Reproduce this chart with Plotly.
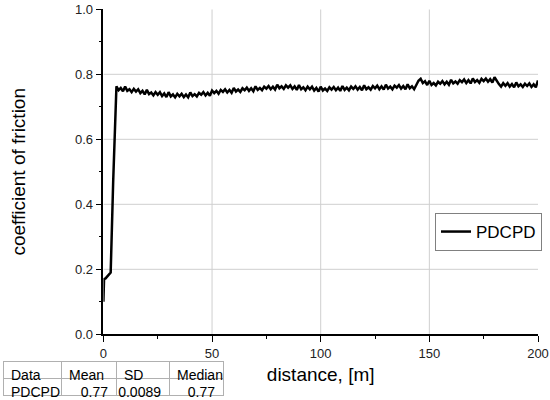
import plotly.graph_objects as go

# start-up part of the run
distance_start = [0.0, 0.3, 1.0, 2.0, 3.0, 3.35, 4.5, 5.8]
friction_start = [0.100, 0.170, 0.172, 0.180, 0.186, 0.190, 0.470, 0.760]

# steady part, one reading per metre (noisy band)
distance_steady = list(range(6, 201))
friction_steady = [
    0.763, 0.751, 0.758, 0.748, 0.762, 0.749, 0.754, 0.745, 0.755, 0.747,
    0.754, 0.742, 0.749, 0.738, 0.752, 0.739, 0.744, 0.735, 0.745, 0.737,
    0.745, 0.733, 0.741, 0.730, 0.745, 0.732, 0.738, 0.729, 0.740, 0.732,
    0.740, 0.730, 0.738, 0.729, 0.744, 0.733, 0.739, 0.732, 0.743, 0.737,
    0.745, 0.735, 0.743, 0.734, 0.750, 0.742, 0.749, 0.740, 0.752, 0.746,
    0.754, 0.744, 0.752, 0.743, 0.758, 0.747, 0.753, 0.746, 0.757, 0.751,
    0.759, 0.749, 0.757, 0.748, 0.763, 0.752, 0.758, 0.751, 0.762, 0.756,
    0.764, 0.754, 0.762, 0.753, 0.768, 0.757, 0.763, 0.755, 0.766, 0.759,
    0.766, 0.755, 0.763, 0.752, 0.767, 0.754, 0.760, 0.751, 0.762, 0.754,
    0.762, 0.750, 0.758, 0.747, 0.762, 0.750, 0.756, 0.749, 0.760, 0.753,
    0.761, 0.751, 0.759, 0.749, 0.764, 0.752, 0.759, 0.751, 0.762, 0.755,
    0.763, 0.753, 0.761, 0.751, 0.766, 0.754, 0.760, 0.753, 0.764, 0.757,
    0.765, 0.754, 0.763, 0.753, 0.768, 0.756, 0.762, 0.754, 0.765, 0.759,
    0.767, 0.756, 0.764, 0.754, 0.769, 0.757, 0.763, 0.754, 0.765, 0.780,
    0.786, 0.773, 0.779, 0.767, 0.780, 0.767, 0.773, 0.766, 0.777, 0.771,
    0.779, 0.769, 0.777, 0.768, 0.783, 0.772, 0.778, 0.771, 0.782, 0.776,
    0.784, 0.773, 0.782, 0.772, 0.787, 0.776, 0.782, 0.774, 0.786, 0.779,
    0.787, 0.777, 0.785, 0.775, 0.791, 0.779, 0.770, 0.762, 0.773, 0.765,
    0.773, 0.762, 0.770, 0.760, 0.775, 0.763, 0.769, 0.761, 0.771, 0.764,
    0.772, 0.761, 0.769, 0.760, 0.781,
]

distance = distance_start + distance_steady
friction = friction_start + friction_steady

series_name = "PDCPD"

# stats table
table_header = ["Data", "Mean", "SD", "Median"]
table_row = ["PDCPD", "0.77", "0.0089", "0.77"]

x_grid = [50, 100, 150]
y_grid = [0.2, 0.4, 0.6, 0.8]

FONT = "Liberation Sans, Arial, sans-serif"

fig = go.Figure()

fig.add_trace(
    go.Scatter(
        x=distance,
        y=friction,
        mode="lines",
        name=series_name,
        line=dict(color="black", width=2.5),
        showlegend=True,
    )
)

fig.add_trace(
    go.Table(
        domain=dict(x=[3 / 550, 223 / 550], y=[0.0, 1 - 361 / 400]),
        columnwidth=[58, 55, 53, 54],
        header=dict(
            values=table_header,
            align="left",
            font=dict(family=FONT, size=14, color="black"),
            fill_color="white",
            line_color="#b0b0b0",
            height=17,
        ),
        cells=dict(
            values=[[v] for v in table_row],
            align=["left", "right", "right", "right"],
            font=dict(family=FONT, size=14, color="black"),
            fill_color="white",
            line_color="#b0b0b0",
            height=17,
        ),
    )
)

# grid lines only at inner ticks
for gx in x_grid:
    fig.add_shape(type="line", xref="x", yref="y", x0=gx, x1=gx, y0=0, y1=1,
                  line=dict(color="#cfcfcf", width=1), layer="below")
for gy in y_grid:
    fig.add_shape(type="line", xref="x", yref="y", x0=0, x1=200, y0=gy, y1=gy,
                  line=dict(color="#cfcfcf", width=1), layer="below")

fig.update_xaxes(
    domain=[103.4 / 550, 538 / 550],
    range=[0, 200],
    tickvals=[0, 50, 100, 150, 200],
    ticks="outside",
    ticklen=6,
    tickwidth=1.2,
    tickcolor="black",
    minor=dict(tickvals=[25, 75, 125, 175], ticks="outside", ticklen=3,
               tickcolor="black", showgrid=False),
    showgrid=False,
    zeroline=False,
    showline=True,
    linecolor="black",
    linewidth=1.5,
    automargin=False,
    tickfont=dict(family=FONT, size=13, color="#222"),
    title=dict(text="distance, [m]", font=dict(family=FONT, size=19, color="black"),
               standoff=8),
)

fig.update_yaxes(
    domain=[1 - 334.3 / 400, 1 - 9.3 / 400],
    range=[0, 1],
    tickvals=[0, 0.2, 0.4, 0.6, 0.8, 1.0],
    tickformat=".1f",
    ticks="outside",
    ticklen=6,
    tickwidth=1.2,
    tickcolor="black",
    minor=dict(tickvals=[0.1, 0.3, 0.5, 0.7, 0.9], ticks="outside", ticklen=3,
               tickcolor="black", showgrid=False),
    showgrid=False,
    zeroline=False,
    showline=True,
    linecolor="black",
    linewidth=1.5,
    automargin=False,
    tickfont=dict(family=FONT, size=13, color="#222"),
    title=dict(text="coefficient of friction",
               font=dict(family=FONT, size=19, color="black"), standoff=44),
)

fig.update_layout(
    width=550,
    height=400,
    margin=dict(l=0, r=0, t=0, b=0, autoexpand=False),
    paper_bgcolor="white",
    plot_bgcolor="white",
    font=dict(family=FONT),
    legend=dict(
        x=435 / 550,
        y=1 - 232 / 400,
        xref="paper",
        yref="paper",
        xanchor="left",
        yanchor="middle",
        bordercolor="#808080",
        borderwidth=1,
        bgcolor="white",
        font=dict(family=FONT, size=17, color="black"),
        itemwidth=30,
    ),
)

# the page body has a default 8px margin; drop it so the figure sits at 0,0
fig.write_html(
    "out.html",
    config={"displayModeBar": False},
    post_script="document.body.style.margin='0';",
)
